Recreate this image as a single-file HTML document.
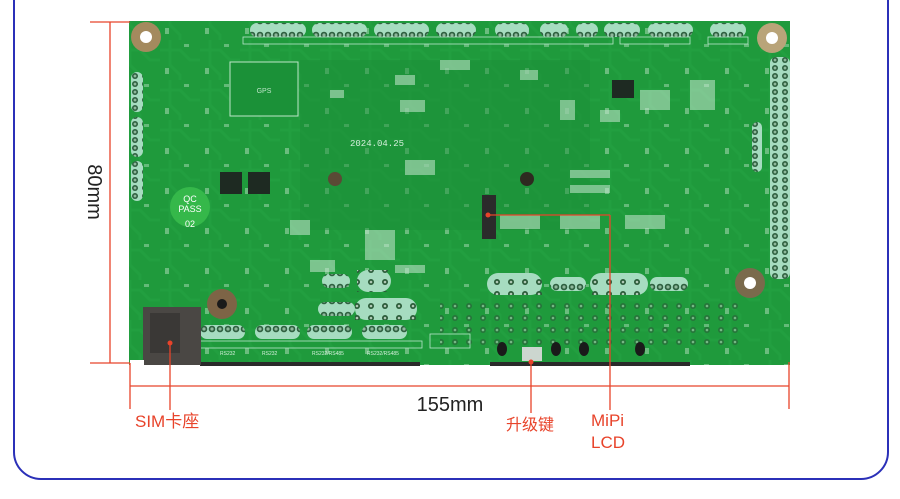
<!DOCTYPE html>
<html><head><meta charset="utf-8"><style>
body{margin:0;width:900px;height:499px;background:#fff;overflow:hidden;position:relative;font-family:"Liberation Sans","Noto Sans CJK SC",sans-serif}
.a{position:absolute}
.red{color:#e8432a}
</style></head><body>
<div class="a" style="left:13px;top:-30px;width:872px;height:506px;border:2px solid #2b30b8;border-radius:28px;"></div>
<svg class="a" style="left:0;top:0" width="900" height="499">
<defs>
<pattern id="tr" width="40" height="40" patternUnits="userSpaceOnUse">
<path d="M0 10 L20 10 L30 20 L40 20 M10 0 L10 25 L20 35 L20 40" stroke="#26a545" stroke-width="3" fill="none"/>
<rect x="24" y="4" width="5" height="3" fill="#b9e0c4"/><rect x="5" y="28" width="4" height="6" fill="#c8e6cf"/>
</pattern>
<pattern id="pin" width="8" height="14" patternUnits="userSpaceOnUse"><rect width="8" height="14" fill="#a6dcc0"/><circle cx="4" cy="7" r="3.3" fill="#2f6040"/><circle cx="4" cy="7" r="1.6" fill="#8fb89c"/></pattern>
<pattern id="pinv" width="10" height="8" patternUnits="userSpaceOnUse"><rect width="10" height="8" fill="#a6dcc0"/><circle cx="5" cy="4" r="3" fill="#2f6040"/><circle cx="5" cy="4" r="1.4" fill="#8fb89c"/></pattern>
<pattern id="hole" width="14" height="12" patternUnits="userSpaceOnUse"><circle cx="7" cy="6" r="3" fill="#2a5a38"/><circle cx="7" cy="6" r="1.3" fill="#b0c9b6"/></pattern>
</defs>
<!-- PCB -->
<rect x="129" y="21" width="661" height="344" fill="#1f9a3c"/>
<rect x="129" y="21" width="661" height="344" fill="url(#tr)" opacity="0.45"/>
<rect x="300" y="60" width="290" height="170" fill="#1b8e37" opacity="0.5"/>
<!-- top headers -->
<g>
<rect x="250" y="23" width="56" height="14" rx="7" fill="url(#pin)"/><rect x="312" y="23" width="55" height="14" rx="7" fill="url(#pin)"/><rect x="374" y="23" width="55" height="14" rx="7" fill="url(#pin)"/><rect x="436" y="23" width="40" height="14" rx="7" fill="url(#pin)"/>
<rect x="495" y="23" width="34" height="14" rx="7" fill="url(#pin)"/><rect x="540" y="23" width="28" height="14" rx="7" fill="url(#pin)"/><rect x="576" y="23" width="22" height="14" rx="7" fill="url(#pin)"/><rect x="604" y="23" width="36" height="14" rx="7" fill="url(#pin)"/><rect x="648" y="23" width="45" height="14" rx="7" fill="url(#pin)"/><rect x="710" y="23" width="36" height="14" rx="7" fill="url(#pin)"/>
</g>
<g fill="none" stroke="#b8e5cb" stroke-width="0.8"><rect x="243" y="37" width="370" height="7"/><rect x="620" y="37" width="70" height="7"/><rect x="708" y="37" width="40" height="7"/></g>
<!-- left headers -->
<rect x="131" y="72" width="12" height="40" rx="6" fill="url(#pinv)"/><rect x="131" y="117" width="12" height="40" rx="6" fill="url(#pinv)"/><rect x="131" y="161" width="12" height="40" rx="6" fill="url(#pinv)"/>
<!-- right LVDS -->
<rect x="770" y="57" width="20" height="222" rx="6" fill="url(#pinv)"/>
<rect x="752" y="122" width="10" height="50" rx="5" fill="url(#pinv)"/>
<!-- mounting holes -->
<g><circle cx="146" cy="37" r="15" fill="#a48a5e"/><circle cx="146" cy="37" r="6" fill="#fff"/>
<circle cx="772" cy="38" r="15" fill="#b9a479"/><circle cx="772" cy="38" r="6" fill="#fff"/>
<circle cx="750" cy="283" r="15" fill="#7a6a4c"/><circle cx="750" cy="283" r="6" fill="#fff"/>
<circle cx="222" cy="304" r="15" fill="#7d6446"/><circle cx="222" cy="304" r="5" fill="#1a1a1a"/>
<circle cx="335" cy="179" r="7" fill="#5a4a35"/><circle cx="527" cy="179" r="7" fill="#2e2a20"/></g>
<!-- GPS -->
<rect x="230" y="62" width="68" height="54" fill="#1b9138" stroke="#bde5c8" stroke-width="1"/>
<text x="264" y="93" font-size="7" fill="#bde5c8" text-anchor="middle" font-family="Liberation Sans">GPS</text>
<text x="350" y="146" font-size="9" fill="#d4efdb" font-family="Liberation Mono">2024.04.25</text>
<!-- chips -->
<rect x="220" y="172" width="22" height="22" fill="#1e2a22"/><rect x="248" y="172" width="22" height="22" fill="#1e2a22"/>
<rect x="482" y="195" width="14" height="44" fill="#2b2b2b"/>
<rect x="612" y="80" width="22" height="18" fill="#1e2a22"/>
<!-- QC sticker -->
<circle cx="190" cy="207" r="20" fill="#35b84a"/>
<text x="190" y="202" font-size="9" fill="#fff" text-anchor="middle" font-family="Liberation Sans">QC</text>
<text x="190" y="212" font-size="9" fill="#fff" text-anchor="middle" font-family="Liberation Sans">PASS</text>
<text x="190" y="227" font-size="9" fill="#fff" text-anchor="middle" font-family="Liberation Sans">02</text>
<!-- small components scatter -->
<g fill="#c8e8d2" opacity="0.55">
<rect x="330" y="90" width="14" height="8"/><rect x="395" y="75" width="20" height="10"/><rect x="400" y="100" width="25" height="12"/><rect x="405" y="160" width="30" height="15"/><rect x="440" y="60" width="30" height="10"/>
<rect x="520" y="70" width="18" height="10"/><rect x="560" y="100" width="15" height="20"/><rect x="600" y="110" width="20" height="12"/><rect x="640" y="90" width="30" height="20"/><rect x="690" y="80" width="25" height="30"/>
<rect x="570" y="170" width="40" height="8"/><rect x="570" y="185" width="40" height="8"/><rect x="625" y="215" width="40" height="14"/><rect x="500" y="215" width="40" height="14"/><rect x="560" y="215" width="40" height="14"/>
<rect x="365" y="230" width="30" height="30"/><rect x="395" y="265" width="30" height="8"/><rect x="290" y="220" width="20" height="15"/><rect x="310" y="260" width="25" height="12"/>
</g>
<!-- mid header blobs -->
<g>
<rect x="322" y="274" width="28" height="14" rx="7" fill="url(#pin)"/><rect x="357" y="270" width="34" height="22" rx="11" fill="#a6dcc0"/><rect x="318" y="302" width="37" height="14" rx="7" fill="url(#pin)"/><rect x="355" y="298" width="62" height="22" rx="11" fill="#a6dcc0"/>
<rect x="487" y="273" width="55" height="22" rx="11" fill="#a6dcc0"/><rect x="550" y="277" width="36" height="14" rx="7" fill="url(#pin)"/><rect x="590" y="273" width="58" height="22" rx="11" fill="#a6dcc0"/><rect x="650" y="277" width="38" height="14" rx="7" fill="url(#pin)"/>
<rect x="200" y="325" width="45" height="14" rx="7" fill="url(#pin)"/><rect x="255" y="325" width="45" height="14" rx="7" fill="url(#pin)"/><rect x="307" y="325" width="45" height="14" rx="7" fill="url(#pin)"/><rect x="362" y="325" width="45" height="14" rx="7" fill="url(#pin)"/>
</g>
<g fill="url(#hole)"><rect x="357" y="270" width="34" height="22"/><rect x="355" y="298" width="62" height="22"/><rect x="487" y="273" width="55" height="22"/><rect x="590" y="273" width="58" height="22"/></g>
<rect x="200" y="341" width="222" height="7" fill="none" stroke="#b8e5cb" stroke-width="0.8"/>
<g font-size="5" fill="#d4efdb" font-family="Liberation Sans"><text x="220" y="355">RS232</text><text x="262" y="355">RS232</text><text x="312" y="355">RS232/RS485</text><text x="367" y="355">RS232/RS485</text></g>
<!-- bottom connector area -->
<rect x="440" y="300" width="300" height="50" fill="url(#hole)" opacity="0.6"/>
<g fill="#1a1a1a"><ellipse cx="502" cy="349" rx="5" ry="7"/><ellipse cx="556" cy="349" rx="5" ry="7"/><ellipse cx="584" cy="349" rx="5" ry="7"/><ellipse cx="640" cy="349" rx="5" ry="7"/></g>
<rect x="522" y="347" width="20" height="14" fill="#ccd6cf"/>
<rect x="430" y="334" width="40" height="14" fill="none" stroke="#b8e5cb" stroke-width="0.8"/>
<rect x="200" y="362" width="220" height="4" fill="#2a2a2a"/><rect x="490" y="362" width="200" height="4" fill="#2a2a2a"/>
<!-- SIM slot -->
<rect x="143" y="307" width="58" height="58" fill="#4a4744"/><rect x="150" y="313" width="30" height="40" fill="#3a3836"/>
<rect x="130" y="360" width="14" height="5" fill="#fff"/>
<!-- dimension lines -->
<g stroke="#e8432a" stroke-width="1.3" fill="none">
<line x1="90" y1="22" x2="130" y2="22"/><line x1="90" y1="363" x2="130" y2="363"/><line x1="110" y1="22" x2="110" y2="363"/>
<line x1="130" y1="363" x2="130" y2="409"/><line x1="789" y1="362" x2="789" y2="409"/><line x1="130" y1="386" x2="789" y2="386"/>
<line x1="170" y1="343" x2="170" y2="410"/><line x1="531" y1="362" x2="531" y2="413"/>
<line x1="488" y1="215" x2="610" y2="215"/><line x1="610" y1="215" x2="610" y2="410"/>
</g>
<circle cx="170" cy="343" r="2.5" fill="#e8432a"/><circle cx="488" cy="215" r="2.5" fill="#e8432a"/><circle cx="531" cy="362" r="2.5" fill="#e8432a"/>
</svg>
<div class="a" style="left:64px;top:180px;width:60px;height:24px;transform:rotate(90deg);font-size:20px;color:#222;text-align:center;line-height:24px">80mm</div>
<div class="a" style="left:400px;top:393px;width:100px;text-align:center;font-size:20px;color:#222;line-height:24px">155mm</div>
<div class="a red" style="left:135px;top:411px;font-size:17px;line-height:22px">SIM卡座</div>
<div class="a red" style="left:506px;top:415px;font-size:16px;line-height:22px">升级键</div>
<div class="a red" style="left:591px;top:410px;font-size:17px;line-height:22px">MiPi<br>LCD</div>
</body></html>
